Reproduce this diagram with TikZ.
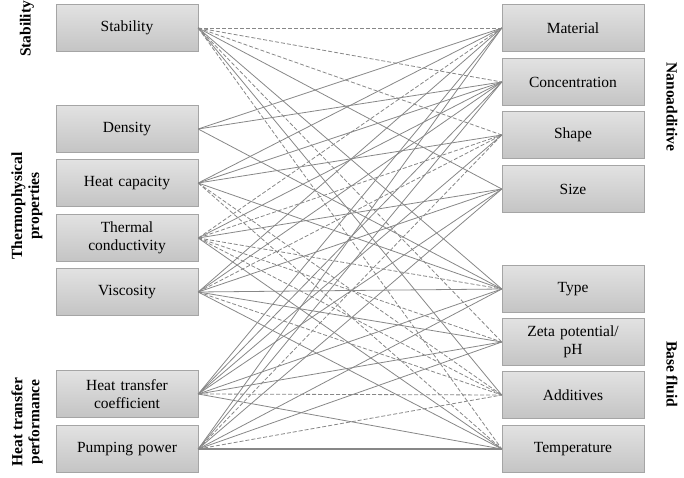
\documentclass[tikz,border=0pt]{standalone}
\usepackage{fontspec}
\setmainfont{Liberation Serif}
\usepackage{xcolor}
\definecolor{boxedge}{RGB}{165,165,165}
\definecolor{boxtop}{RGB}{226,226,226}
\definecolor{boxbot}{RGB}{196,196,196}
\definecolor{wire}{RGB}{135,135,135}
\usepackage{tikz}
\usetikzlibrary{positioning}

\begin{document}
\begin{tikzpicture}[x=1pt,y=-1pt,
  bx/.style={rectangle,draw=boxedge,top color=boxtop,bottom color=boxbot,
             minimum width=142pt,minimum height=47pt,inner sep=2pt,
             text width=134pt,align=center,font=\fontsize{15.5}{18}\selectfont},
  grp/.style={font=\fontsize{15.5}{17}\selectfont\bfseries,align=center},
  sl/.style={draw=wire,line width=0.8pt},
  dl/.style={draw=wire,line width=0.8pt,dash pattern=on 4pt off 2pt},
]
  \useasboundingbox (0,0) rectangle (684,478);
  %% left column
  \node[bx] (st)  at (127,28)  {Stability};
  \node[bx] (de)  at (127,129) {Density};
  \node[bx] (hc)  at (127,183) {Heat capacity};
  \node[bx] (tc)  at (127,238) {Thermal\\conductivity};
  \node[bx] (vi)  at (127,292) {Viscosity};
  \node[bx] (htc) at (127,394) {Heat transfer\\coefficient};
  \node[bx] (pp)  at (127,449) {Pumping power};
  %% right column
  \node[bx] (mat) at (573,28)  {Material};
  \node[bx] (con) at (573,82)  {Concentration};
  \node[bx] (sha) at (573,135) {Shape};
  \node[bx] (siz) at (573,189) {Size};
  \node[bx] (typ) at (573,289) {Type};
  \node[bx] (zet) at (573,342) {Zeta potential/\\pH};
  \node[bx] (add) at (573,395) {Additives};
  \node[bx] (tem) at (573,449) {Temperature};
  %% group labels
  \node[grp,rotate=90] (gst) at (27,29) {Stability};
  \node[grp,rotate=90] (gtp) at (27,206) {Thermophysical\\properties};
  \node[grp,rotate=90] (ght) at (27,422) {Heat transfer\\performance};
  \node[grp,rotate=-90] (gna) at (672,107) {Nanoadditive};
  \node[grp,rotate=-90] (gbf) at (672,374) {Base fluid};
  %% stability
  \draw[dl](st.east)--(mat.west); \draw[dl](st.east)--(con.west);
  \draw[dl](st.east)--(sha.west); \draw[sl](st.east)--(siz.west);
  \draw[sl](st.east)--(typ.west); \draw[dl](st.east)--(zet.west);
  \draw[sl](st.east)--(add.west); \draw[dl](st.east)--(tem.west);
  %% density
  \draw[sl](de.east)--(mat.west); \draw[sl](de.east)--(con.west);
  \draw[sl](de.east)--(typ.west);
  %% heat capacity
  \draw[sl](hc.east)--(mat.west); \draw[sl](hc.east)--(con.west);
  \draw[sl](hc.east)--(sha.west); \draw[sl](hc.east)--(typ.west);
  \draw[dl](hc.east)--(add.west); \draw[dl](hc.east)--(tem.west);
  %% thermal conductivity
  \draw[dl](tc.east)--(mat.west); \draw[sl](tc.east)--(con.west);
  \draw[dl](tc.east)--(sha.west); \draw[sl](tc.east)--(siz.west);
  \draw[dl](tc.east)--(typ.west); \draw[dl](tc.east)--(zet.west);
  \draw[dl](tc.east)--(add.west); \draw[sl](tc.east)--(tem.west);
  %% viscosity
  \draw[sl](vi.east)--(mat.west); \draw[sl](vi.east)--(con.west);
  \draw[dl](vi.east)--(sha.west); \draw[sl](vi.east)--(siz.west);
  \draw[sl](vi.east)--(typ.west); \draw[sl](vi.east)--(zet.west);
  \draw[dl](vi.east)--(add.west); \draw[sl](vi.east)--(tem.west);
  %% heat transfer coefficient
  \draw[sl](htc.east)--(mat.west); \draw[sl](htc.east)--(con.west);
  \draw[sl](htc.east)--(sha.west); \draw[sl](htc.east)--(siz.west);
  \draw[sl](htc.east)--(typ.west); \draw[sl](htc.east)--(zet.west);
  \draw[dl](htc.east)--(add.west); \draw[sl](htc.east)--(tem.west);
  %% pumping power
  \draw[sl](pp.east)--(mat.west); \draw[sl](pp.east)--(con.west);
  \draw[dl](pp.east)--(sha.west); \draw[sl](pp.east)--(siz.west);
  \draw[sl](pp.east)--(typ.west); \draw[sl](pp.east)--(zet.west);
  \draw[dl](pp.east)--(add.west); \draw[sl,line width=1.2pt](pp.east)--(tem.west);
\end{tikzpicture}
\end{document}
